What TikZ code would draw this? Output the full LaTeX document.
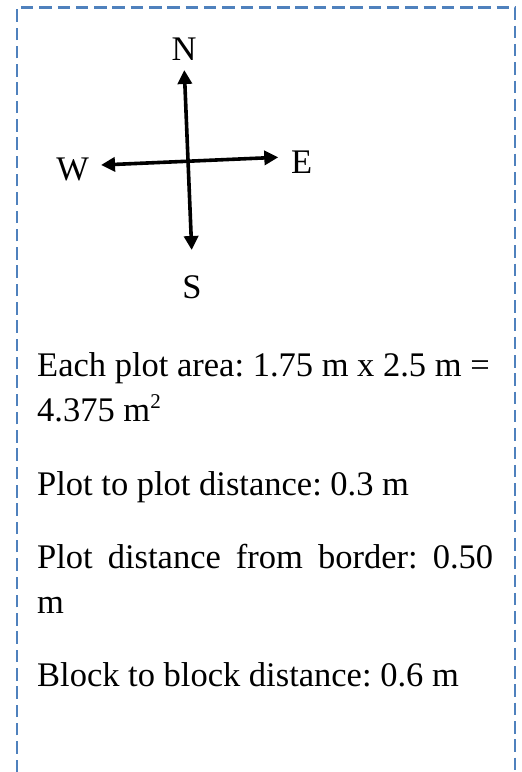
\documentclass[tikz,border=0pt]{standalone}
\usepackage{fontspec}
\setmainfont{Liberation Serif}
\usetikzlibrary{arrows.meta}

\definecolor{frameblue}{HTML}{4F81BD}

\newcommand{\supnum}[1]{\raisebox{13pt}{\fontsize{21}{21}\selectfont #1}}

\begin{document}
\frenchspacing
\begin{tikzpicture}[
						x=1pt,
						y=-1pt,
						line cap=butt,
						line join=miter,
						frame/.style={draw=frameblue, line width=2.6pt, dash pattern=on 12.5pt off 5.8pt},
						compass/.style={line width=3.6pt, {Triangle[length=14pt,width=14pt]}-{Triangle[length=14pt,width=14pt]}},
						every node/.style={font=\fontsize{34.5}{40}\selectfont\frenchspacing, inner sep=0pt}
						]
						
						\useasboundingbox (0,0) rectangle (522,772);
						
						% dashed frame, open at the bottom
						\draw[frame] (17,772) -- (17,7.3) -- (515,7.3) -- (515,772);
						
						% Compass
						\begin{scope}
							\node[anchor=base] (N) at (184,60) {N};
							\node[anchor=base] (S) at (192,298) {S};
							\node[anchor=base] (W) at (72.7,180) {W};
							\node[anchor=base] (E) at (301.7,173) {E};
							
							\coordinate (tipN) at (184.3,70);
							\coordinate (tipS) at (191.7,250);
							\coordinate (tipW) at (101,165);
							\coordinate (tipE) at (278.3,157.3);
							
							\draw[compass] (tipS) -- (tipN);
							\draw[compass] (tipW) -- (tipE);
						\end{scope}
						
						% Plot notes
						\begin{scope}[every node/.append style={anchor=base west}]
							\node (area) at (37,376.7) {Each plot area: 1.75 m x 2.5 m =};
							\node (areaval) at (37,421.7) {4.375 m\supnum{2}};
							\node (plotgap) at (37,495) {Plot to plot distance: 0.3 m};
							\node (border) at (37,568.3) {\makebox[456pt][s]{Plot distance from border: 0.50}};
							\node (borderunit) at (37,613) {m};
							\node (blockgap) at (37,686.7) {Block to block distance: 0.6 m};
						\end{scope}
						
					\end{tikzpicture}
\end{document}
